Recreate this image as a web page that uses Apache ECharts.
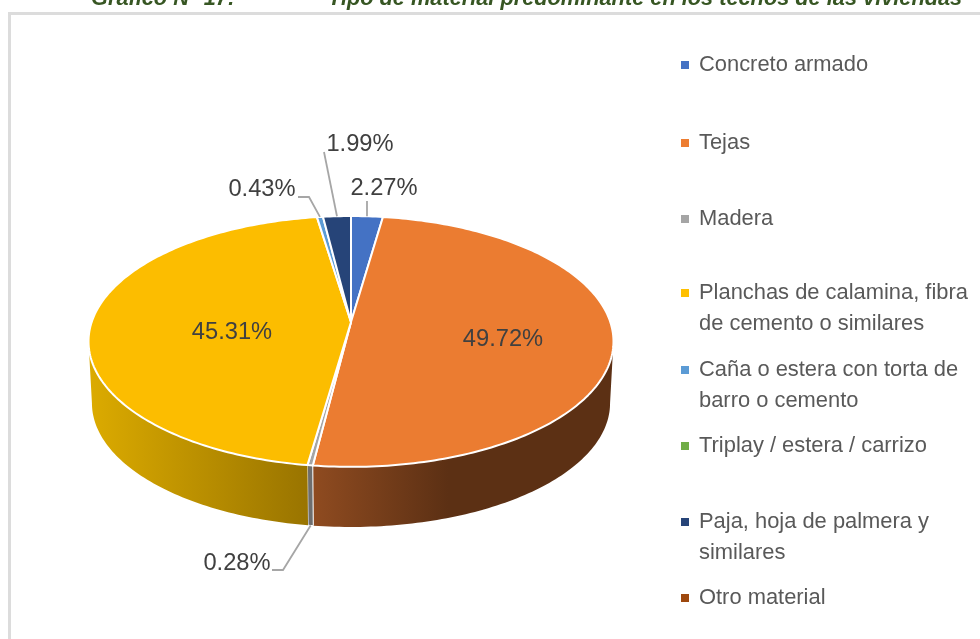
<!DOCTYPE html>
<html>
<head>
<meta charset="utf-8">
<style>html,body{margin:0;padding:0;background:#fff}#chart{width:980px;height:639px}</style>
<script src="https://cdn.jsdelivr.net/npm/echarts@6/dist/echarts.min.js"></script>
</head>
<body>
<div id="chart"></div>
<script>
// datos
var categories = ['Concreto armado', 'Tejas', 'Madera', 'Planchas de calamina, fibra\nde cemento o similares',
  'Caña o estera con torta de\nbarro o cemento', 'Triplay / estera / carrizo', 'Paja, hoja de palmera y\nsimilares', 'Otro material'];
var values = [2.27, 49.72, 0.28, 45.31, 0.43, 0, 1.99, 0];
var chartTitle = 'Gráfico N° 17:';
var chartSubtitle = 'Tipo de material predominante en los techos de las viviendas';

// colores
var colors = ['#4472C4', '#ED7D31', '#A5A5A5', '#FFC000', '#5B9BD5', '#70AD47', '#264478', '#9E480E'];
var topColors = {1: '#EB7C31', 3: '#FCBD00'};
var wallStops = {
  1: [[0, '#8f4b20'], [0.45, '#5c3014'], [1, '#5c3014']],
  2: [[0, '#6e6e6e'], [1, '#6e6e6e']],
  3: [[0, '#dcab00'], [1, '#997400']]
};

// posicion de las etiquetas y sus lineas guia
var labelPos = {0: [384, 188], 1: [503, 339], 2: [237, 563], 3: [232, 332], 4: [262, 189], 6: [360, 144]};
var guidePts = {0: [[367, 201]], 2: [[272, 570], [283, 570]], 4: [[298, 197], [309, 197]], 6: [[324, 152]]};
var legendY = [65, 143, 219, 293, 370, 446, 522, 598];

// perspectiva del disco
var apexX = 351, apexY = 322, radius = 259.3, tilt = 122.4, persp = 0.155;
var depth = 62, bottomScale = 0.987;
// angulo donde la pared deja de verse por el costado
var edgeAngle = Math.acos(-persp) * 180 / Math.PI;

function project(deg, bottom) {
  var a = deg * Math.PI / 180;
  var w = 1 + persp * Math.cos(a);
  var s = bottom ? bottomScale : 1;
  return [apexX + s * radius * Math.sin(a) / w, apexY + (bottom ? depth : 0) - s * tilt * Math.cos(a) / w];
}
function arc(a0, a1, bottom) {
  var pts = [], n = Math.max(2, Math.ceil(Math.abs(a1 - a0)));
  for (var i = 0; i <= n; i++) pts.push(project(a0 + (a1 - a0) * i / n, bottom));
  return pts;
}
function sliceRange(idx) {
  var sum = 0, before = 0;
  values.forEach(function (v, i) { sum += v; if (i < idx) before += v; });
  return [before / sum * 360, (before + values[idx]) / sum * 360];
}

function renderSlice(params, api) {
  var idx = params.seriesIndex;
  var range = sliceRange(idx);
  var children = [];
  if (!values[idx]) return {type: 'group', children: children};

  // pared lateral, solo la parte delantera
  var a0 = Math.max(range[0], edgeAngle), a1 = Math.min(range[1], 360 - edgeAngle);
  if (a1 > a0) {
    var wall = arc(a0, a1).concat(arc(a1, a0, true));
    var xs = wall.map(function (p) { return p[0]; });
    var stops = wallStops[idx].map(function (s) { return {offset: s[0], color: s[1]}; });
    children.push({
      type: 'polygon', z2: 1, shape: {points: wall},
      style: {
        fill: new echarts.graphic.LinearGradient(Math.min.apply(null, xs), 0, Math.max.apply(null, xs), 0, stops, true),
        stroke: idx === 2 ? '#fff' : null, lineWidth: 1
      }
    });
  }
  // cara superior
  children.push({
    type: 'polygon', z2: 2, shape: {points: [[apexX, apexY]].concat(arc(range[0], range[1]))},
    style: {fill: topColors[idx] || colors[idx], stroke: '#fff', lineWidth: 2, lineJoin: 'round'}
  });
  // linea guia
  if (guidePts[idx]) {
    var mid = (range[0] + range[1]) / 2;
    children.push({
      type: 'polyline', z2: 3,
      shape: {points: guidePts[idx].concat([project(mid, mid > 90 && mid < 270)])},
      style: {fill: null, stroke: '#a6a6a6', lineWidth: 1.8}
    });
  }
  children.push({
    type: 'text', z2: 4, x: labelPos[idx][0], y: labelPos[idx][1],
    style: {
      text: values[idx].toFixed(2) + '%', fill: '#404040', align: 'center', verticalAlign: 'middle',
      fontFamily: 'Liberation Sans', fontSize: 23.7
    }
  });
  return {type: 'group', children: children};
}

var lineH = 31;
var legends = categories.map(function (name, i) {
  var multi = name.indexOf('\n') >= 0;
  return {
    data: [name], left: 681, top: legendY[i] - (multi ? lineH * 1.5 : lineH / 2), padding: 0,
    orient: 'vertical', selectedMode: false, icon: 'rect', itemWidth: 8, itemHeight: 8, itemGap: 0,
    // linea en blanco arriba: asi el cuadrito queda a la altura de la primera linea
    formatter: function (n) { return n.indexOf('\n') >= 0 ? '\n' + n : n; },
    textStyle: {
      color: '#595959', fontFamily: 'Liberation Sans', fontSize: 21.9, lineHeight: lineH, padding: [0, 0, 0, 5]
    }
  };
});

var titleStyle = {color: '#375623', fontFamily: 'Liberation Sans', fontSize: 21.75, fontWeight: 'bold', fontStyle: 'italic'};

var option = {
  animation: false,
  backgroundColor: '#fff',
  color: colors,
  title: [
    {text: chartTitle, left: 91, top: -12, padding: 0, textStyle: titleStyle},
    {text: chartSubtitle, left: 328, top: -12, padding: 0, textStyle: titleStyle}
  ],
  legend: legends,
  graphic: [{
    type: 'polyline', silent: true, z: -1,
    shape: {points: [[9.5, 639], [9.5, 13.5], [980, 13.5]]},
    style: {fill: null, stroke: '#dcdcdc', lineWidth: 3}
  }],
  series: categories.map(function (name, i) {
    return {
      type: 'custom', name: name, coordinateSystem: 'none',
      itemStyle: {color: colors[i]}, silent: true,
      renderItem: renderSlice, data: [[values[i]]]
    };
  })
};

var myChart = echarts.init(document.getElementById('chart'));
myChart.setOption(option);
</script>
</body>
</html>
